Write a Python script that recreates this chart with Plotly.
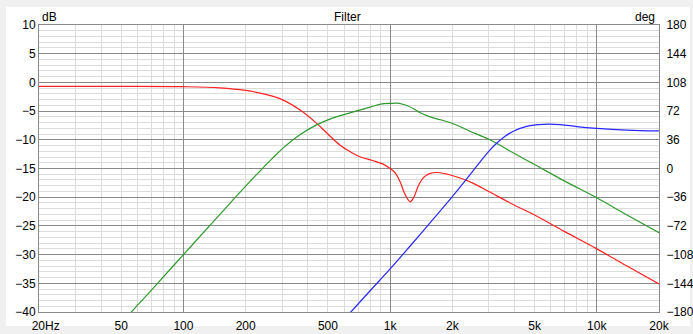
import plotly.graph_objects as go

# ---- data ----
red_f = [20, 50, 100, 150, 200, 250, 300, 370, 440, 500, 570, 650, 720, 820, 920, 1000,
         1060, 1120, 1180, 1250, 1310, 1370, 1450, 1550, 1700, 1900, 2200, 2500, 3000,
         4000, 5000, 7000, 10000, 14000, 20000]
red_db = [-0.7, -0.7, -0.75, -0.95, -1.4, -2.1, -3.0, -4.9, -7.1, -9.0, -10.9, -12.2, -13.0,
          -13.6, -14.2, -15.0, -15.8, -17.4, -19.5, -20.8, -19.8, -18.0, -16.6, -15.9, -15.7,
          -16.0, -16.7, -17.5, -19.0, -21.4, -23.1, -26.0, -29.0, -32.0, -35.1]

green_f = [40, 56, 70, 100, 142, 170, 202, 235, 270, 304, 366, 441, 511, 640, 800, 900, 1000,
           1080, 1150, 1220, 1300, 1400, 1560, 1750, 2020, 2435, 3042, 4000, 5000, 7000,
           10000, 14000, 20000]
green_db = [-45.9, -40.0, -36.2, -30.0, -23.95, -20.85, -17.9, -15.4, -13.2, -11.4, -9.1, -7.4,
            -6.4, -5.3, -4.3, -3.8, -3.65, -3.62, -3.8, -4.1, -4.6, -5.3, -6.0, -6.5, -7.2,
            -8.5, -10.0, -12.4, -14.3, -17.2, -20.1, -23.1, -26.2]

blue_f = [600, 646, 800, 1000, 1250, 1600, 2000, 2300, 2624, 3000, 3277, 3600, 3945, 4580,
          5510, 6662, 8000, 10000, 14000, 20000]
blue_db = [-41.3, -40.0, -36.3, -32.5, -28.5, -24.0, -19.9, -17.2, -14.6, -12.0, -10.6, -9.4,
           -8.5, -7.65, -7.3, -7.35, -7.7, -8.0, -8.3, -8.45]

x_tickvals = [20, 50, 100, 200, 500, 1000, 2000, 5000, 10000, 20000]
x_ticktext = ["\u00a0\u00a0\u00a0\u00a020Hz", "50", "100", "200", "500", "1k", "2k", "5k", "10k", "20k"]
x_light_grid = [30, 40, 50, 60, 70, 80, 90, 200, 300, 400, 500, 600, 700, 800, 900,
                2000, 3000, 4000, 5000, 6000, 7000, 8000, 9000]
x_major_grid = [100, 1000, 10000]
deg_ticks = [-180, -144, -108, -72, -36, 0, 36, 72, 108, 144, 180]

FONT = "Liberation Sans"
MAJ = "#8a8a8a"
MIN = "#dcdcdc"
CLEAR = "rgba(0,0,0,0)"
XRANGE = [1.30103, 4.30103]

fig = go.Figure()
fig.add_trace(go.Scatter(x=red_f, y=red_db, mode="lines", line=dict(color="#ff2020", width=1.2, shape="spline"),
                         hoverinfo="skip"))
fig.add_trace(go.Scatter(x=green_f, y=green_db, mode="lines", line=dict(color="#2e9a2e", width=1.2, shape="spline"),
                         hoverinfo="skip"))
fig.add_trace(go.Scatter(x=blue_f, y=blue_db, mode="lines", line=dict(color="#2828ff", width=1.2, shape="spline"),
                         hoverinfo="skip"))
# empty helper trace so that the label axis (x2) and the degree axis (y2) are drawn
fig.add_trace(go.Scatter(x=[1000], y=[0], xaxis="x2", yaxis="y2", mode="lines", hoverinfo="skip",
                         showlegend=False))

L, R, T, B = 39, 34, 25, 22
W, H = 693, 334
pw, ph = W - L - R, H - T - B

# white panel
fig.add_shape(type="rect", xref="paper", yref="paper", layer="below",
              x0=(6 - L) / pw, x1=(690 - L) / pw, y0=(H - B - 326) / ph, y1=(H - B - 7) / ph,
              fillcolor="white", line=dict(width=0))

fig.update_layout(
    width=W, height=H, margin=dict(l=L, r=R, t=T, b=B, autoexpand=False),
    paper_bgcolor="#f0f0f0", plot_bgcolor=CLEAR, showlegend=False,
    font=dict(family=FONT, size=12, color="black"),
    # grid axis: dark lines at decades, light minor lines
    xaxis=dict(type="log", range=XRANGE, tickmode="array", tickvals=x_major_grid,
               showticklabels=False, showgrid=True, gridcolor=MAJ, gridwidth=1, ticks="",
               showline=True, linecolor=MAJ, linewidth=1, mirror=True, zeroline=False, automargin=False,
               minor=dict(tickmode="array", tickvals=x_light_grid, showgrid=True, gridcolor=MIN, gridwidth=1, ticks=""),
               fixedrange=True),
    # label axis
    xaxis2=dict(type="log", range=XRANGE, overlaying="x", anchor="y2", side="bottom",
                tickmode="array", tickvals=x_tickvals, ticktext=x_ticktext, showgrid=False,
                ticks="outside", ticklen=3, tickcolor=CLEAR, showline=False, zeroline=False,
                automargin=False, tickfont=dict(family=FONT, size=12, color="black"), fixedrange=True),
    yaxis=dict(range=[-40, 10], tick0=-40, dtick=5, showgrid=True, gridcolor=MAJ, gridwidth=1,
               ticks="", showline=True, linecolor=MAJ, linewidth=1, mirror=True, zeroline=False,
               automargin=False,
               minor=dict(dtick=1, showgrid=True, gridcolor=MIN, gridwidth=1, ticks=""),
               tickfont=dict(family=FONT, size=12, color="black"), fixedrange=True),
    yaxis2=dict(range=[-180, 180], overlaying="y", side="right", anchor="x2", tickmode="array",
                tickvals=deg_ticks, showgrid=False, zeroline=False, ticks="outside", ticklen=4,
                tickcolor=CLEAR, showline=False, automargin=False,
                tickfont=dict(family=FONT, size=12, color="black"), fixedrange=True),
    annotations=[
        dict(text="Filter", xref="paper", yref="paper", x=0.498, y=(H - B - 17) / ph,
             showarrow=False, xanchor="center", yanchor="middle", font=dict(size=12)),
        dict(text="dB", xref="paper", yref="paper", x=(40 - L) / pw, y=(H - B - 17) / ph,
             showarrow=False, xanchor="left", yanchor="middle", font=dict(size=12)),
        dict(text="deg", xref="paper", yref="paper", x=(657 - L) / pw, y=(H - B - 17) / ph,
             showarrow=False, xanchor="right", yanchor="middle", font=dict(size=12)),
    ],
)

fig.write_html("out.html")
